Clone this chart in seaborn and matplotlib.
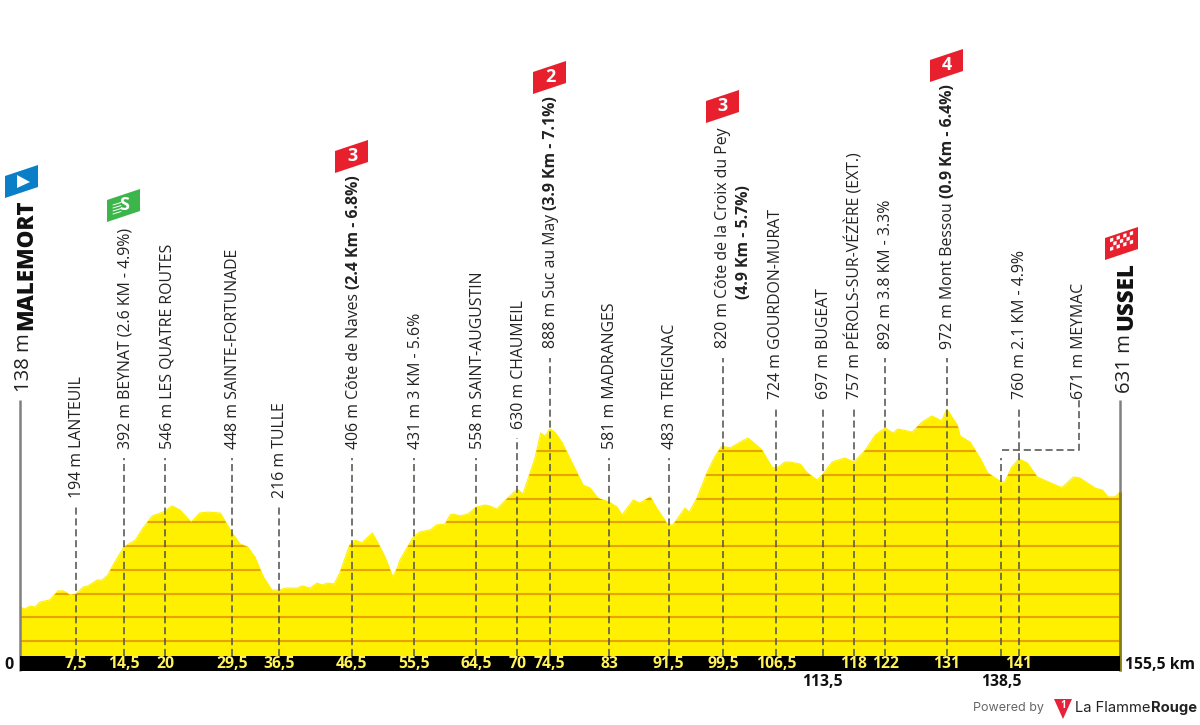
import matplotlib
matplotlib.use("Agg")
import matplotlib.pyplot as plt
from matplotlib.patches import Polygon
from matplotlib.transforms import Affine2D
import numpy as np
import pandas as pd
import seaborn as sns

# profile: km from start, elevation in m
profile_km = [0, .7, 1.4, 2.1, 2.8, 4.2, 5.4, 6.1, 7.1, 7.9, 8.9, 9.6, 10.9, 11.6, 12.4, 13.4, 14.7, 16.3, 17.4, 18.7,
              20.2, 21.5, 22.6, 24.2, 25.4, 26.6, 28.3, 30, 31.1, 32.2, 33.2, 34.4, 35.6, 36.6, 37.7, 39.2, 39.9, 41, 42, 42.7,
              43.5, 44.4, 45.2, 46.6, 47.4, 48.3, 49.8, 50.6, 51.6, 52.7, 53.4, 53.7, 55.6, 56.5, 58, 58.9, 60.1, 60.8, 61.2, 62.2,
              63.3, 64.5, 65.7, 66.4, 67.4, 68.8, 70.3, 71.1, 72.1, 72.8, 73.6, 74.2, 74.9, 75.6, 76.6, 77.7, 78.9, 79.6, 80.6, 81.7,
              83.3, 84.4, 85.1, 86.7, 87.6, 89.1, 90, 91.6, 92.3, 93, 94, 94.6, 95.7, 97.1, 98.2, 99.2, 100.4, 101.8, 102.9, 103.6,
              104.9, 105.7, 106.4, 107.2, 108.1, 108.8, 110.3, 111.3, 112.7, 113.5, 114.8, 116.6, 117.9, 119.5, 120.9, 122.3, 123.4, 124.1, 125.4, 126.1,
              127.5, 128.9, 130.3, 131, 132.5, 132.9, 134.3, 135.7, 136.8, 138.7, 139.2, 140.2, 141.2, 142.4, 143.8, 147, 147.4, 148.9, 149.8, 152,
              153, 153.8, 154.8, 155.5]
profile_m = [143, 135, 147, 143, 164, 173, 211, 211, 194, 198, 227, 232, 257, 257, 278, 333, 396, 425, 476, 527,
             543, 569, 552, 501, 539, 543, 539, 455, 409, 396, 354, 270, 215, 215, 223, 223, 232, 223, 244, 236,
             244, 240, 286, 404, 425, 413, 455, 413, 354, 270, 312, 341, 438, 459, 468, 489, 493, 531, 535, 527,
             535, 564, 573, 569, 556, 598, 640, 619, 708, 771, 876, 863, 893, 880, 838, 771, 699, 657, 644, 602,
             585, 564, 531, 594, 581, 607, 560, 489, 489, 518, 560, 543, 602, 708, 775, 821, 813, 838, 855, 838,
             804, 762, 729, 733, 754, 754, 745, 708, 678, 703, 754, 771, 754, 804, 868, 897, 876, 893, 885, 880,
             922, 948, 927, 977, 910, 863, 838, 771, 708, 670, 670, 733, 767, 750, 691, 649, 649, 691, 687, 644,
             636, 607, 607, 628]

# waypoints
marker_km = [7.9, 14.7, 20.5, 30, 36.6, 46.9, 55.7, 64.5, 70.3, 74.9, 83.3, 91.7, 99.4, 106.9, 113.5, 117.9, 122.3, 131, 138.7, 141.2]
km_labels = ["7,5", "14,5", "20", "29,5", "36,5", "46,5", "55,5", "64,5", "70", "74,5", "83", "91,5", "99,5", "106,5", "113,5", "118", "122", "131", "138,5", "141"]
place_labels = ["194 m LANTEUIL", "392 m BEYNAT (2.6 KM - 4.9%)", "546 m LES QUATRE ROUTES", "448 m SAINTE-FORTUNADE", "216 m TULLE",
                "406 m Côte de Naves ", "431 m 3 KM - 5.6%", "558 m SAINT-AUGUSTIN", "630 m CHAUMEIL", "888 m Suc au May ",
                "581 m MADRANGES", "483 m TREIGNAC", "820 m Côte de la Croix du Pey", "724 m GOURDON-MURAT", "697 m BUGEAT",
                "757 m PÉROLS-SUR-VÉZÈRE (EXT.)", "892 m 3.8 KM - 3.3%", "972 m Mont Bessou ", "671 m MEYMAC", "760 m 2.1 KM - 4.9%"]
bold_parts = {5: "(2.4 Km - 6.8%)", 9: "(3.9 Km - 7.1%)", 17: "(0.9 Km - 6.4%)"}
low_km_labels = ["113,5", "138,5"]
grid_m = [0, 100, 200, 300, 400, 500, 600, 700, 800, 900]
total_km = 155.5

# layout, in pixels from the top left of the picture
text_x = [81, 130, 171, 237, 284, 358, 420, 482, 523, 555, 614, 674, 727, 780, 828, 859, 890, 952, 1083, 1024]
text_bottom = [498, 449, 449, 449, 498, 449, 449, 449, 429, 348, 449, 449, 348, 399, 399, 399, 349, 349, 399, 399]
leader_top = [507, 458, 458, 458, 507, 458, 458, 458, 438, 358, 458, 458, 358, 408, 408, 408, 358, 358, 458, 408]

YELLOW = "#fff000"
GRID = "#e6a400"
DASH = "#55554f"
KM_YELLOW = "#fff25a"
DASHES = (0, (3.8, 2.0))

sns.set_theme(style="white")
plt.rcParams["font.family"] = ["Open Sans", "DejaVu Sans"]

fig = plt.figure(figsize=(12, 7.25), dpi=100)
ax = fig.add_axes([0, 0, 1, 1])
ax.set_xlim(-20 / 7.074, 1180 / 7.074)
ax.set_ylim(-84 / 0.2374, 641 / 0.2374)
ax.axis("off")

px = Affine2D().scale(1, -1).translate(0, 725)
renderer = fig.canvas.get_renderer()


def x_to_km(x):
    return (x - 20) / 7.074


def y_to_m(y):
    return (641 - y) / 0.2374


def up_text(x, y, s, size, weight="normal", color="#222222", ha="left"):
    # x is the baseline of the rotated text, y where it starts
    return ax.text(x, y, s, transform=px, rotation=90, rotation_mode="anchor", ha=ha, va="baseline",
                   fontsize=size, fontweight=weight, color=color, zorder=5)


df = pd.DataFrame({"km": profile_km, "m": profile_m})
bottom = y_to_m(656)
ax.fill_between(df["km"], df["m"], bottom, color=YELLOW, lw=0, zorder=1)
sns.lineplot(data=df, x="km", y="m", color=YELLOW, lw=0.8, ax=ax, zorder=1, legend=False)
ax.set_xlabel("")
ax.set_ylabel("")

# height lines only show inside the profile
clip = Polygon(list(zip(profile_km, profile_m)) + [(total_km, bottom), (0, bottom)], transform=ax.transData)
lines = ax.hlines(grid_m, 0, total_km, color=GRID, lw=1.5, zorder=2)
lines.set_clip_path(clip)

# black km band
ax.fill_between([0, total_km], y_to_m(655.5), y_to_m(671), color="black", lw=0, zorder=3)

# start and finish posts
ax.vlines([0, total_km], y_to_m(671), y_to_m(400), color="#808080", lw=1.8, zorder=2)
ax.vlines(total_km, y_to_m(671), profile_m[-1], color="#8a7d10", lw=1.8, zorder=2)

# leaders
for i, km in enumerate(marker_km):
    ax.plot([km, km], [y_to_m(656), y_to_m(leader_top[i])], color=DASH, lw=1.35, ls=DASHES, alpha=0.85, zorder=4)
ax.plot([marker_km[18] + 0.15, x_to_km(1079), x_to_km(1079)], [y_to_m(450), y_to_m(450), y_to_m(400)],
        color=DASH, lw=1.35, ls=DASHES, alpha=0.85, zorder=4)

# place names
LABEL_SIZE = 11.45
for i, name in enumerate(place_labels):
    t = up_text(text_x[i], text_bottom[i], name, LABEL_SIZE)
    if i in bold_parts:
        top = t.get_window_extent(renderer).y1
        up_text(text_x[i], 725 - top, bold_parts[i], LABEL_SIZE, weight="bold")
up_text(748, 185, "(4.9 Km - 5.7%)", LABEL_SIZE, weight="bold", ha="right")

# start and finish names
up_text(29, 392, "138 m", 14.6)
up_text(32, 330, "MALEMORT", 16, weight="heavy", color="#111111")
up_text(1130, 393, "631 m", 14.6)
up_text(1132, 330, "USSEL", 16, weight="heavy", color="#111111")

# km labels
for km, label in zip(marker_km, km_labels):
    if label in low_km_labels:
        ax.text(km, y_to_m(682), label, ha="center", va="center", fontsize=11.3, fontweight="bold", color="#111111", zorder=5)
    else:
        ax.text(km, y_to_m(663.5), label, ha="center", va="center", fontsize=11.3, fontweight="bold", color=KM_YELLOW, zorder=5)
ax.text(9, 665, "0", transform=px, ha="center", va="center", fontsize=11.5, fontweight="bold", color="#111111")
ax.text(1125, 665, "155,5 km", transform=px, ha="left", va="center", fontsize=11.3, fontweight="bold", color="#111111")


# little slanted flags above the climbs
def flag(x0, y0, color, text=None, text_color="white"):
    ax.add_patch(Polygon([(x0, y0), (x0, y0 - 22), (x0 + 33, y0 - 33), (x0 + 33, y0 - 11)], closed=True,
                         transform=px, facecolor=color, edgecolor="none", zorder=6))
    if text:
        ax.text(x0 + 17, y0 - 17, text, transform=px, ha="center", va="center", fontsize=13, fontweight="bold",
                color=text_color, zorder=7)


flag(5, 198, "#0b7ec8")
ax.add_patch(Polygon([(17, 188), (17, 175), (30, 182)], closed=True, transform=px, facecolor="white", edgecolor="none", zorder=7))
flag(107, 222, "#3cb54a", "S")
for k in range(4):
    ax.plot([113, 121], [209 - k * 3 + 5, 209 - k * 3 + 2.5], transform=px, color="white", lw=0.7, zorder=7)
flag(335, 173, "#e8202e", "3")
flag(533, 94, "#e8202e", "2")
flag(706, 123, "#e8202e", "3")
flag(930, 82, "#e8202e", "4")
flag(1105, 260, "#e8202e")

# chequered part of the finish flag
for row in range(3):
    for col in range(7):
        if (row + col) % 2 == 0:
            x = 1110 + col * 3.3
            y = 251 - (x - 1110) / 3 - row * 4.4
            ax.add_patch(Polygon([(x, y), (x, y - 3.6), (x + 3.3, y - 4.7), (x + 3.3, y - 1.1)], closed=True, transform=px,
                                 facecolor="white", edgecolor="none", zorder=7))

# footer
ax.text(973, 708, "Powered by", transform=px, ha="left", va="center", fontsize=9, color="#666666", family="Inter")
ax.add_patch(Polygon([(1054, 699), (1072, 699), (1063, 719)], closed=True, transform=px, facecolor="#e8203a", edgecolor="none"))
ax.text(1063, 706, "1", transform=px, ha="center", va="center", fontsize=7, fontweight="bold", color="white")
t = ax.text(1075, 708, "La Flamme", transform=px, ha="left", va="center", fontsize=10.6, color="#222222", family="Inter")
ax.annotate("Rouge", xy=(1, 0.5), xycoords=t, xytext=(0, 0), textcoords="offset points", ha="left", va="center",
            fontsize=10.6, fontweight="bold", color="#222222", family="Inter")

fig.savefig("out.png", dpi=100)
